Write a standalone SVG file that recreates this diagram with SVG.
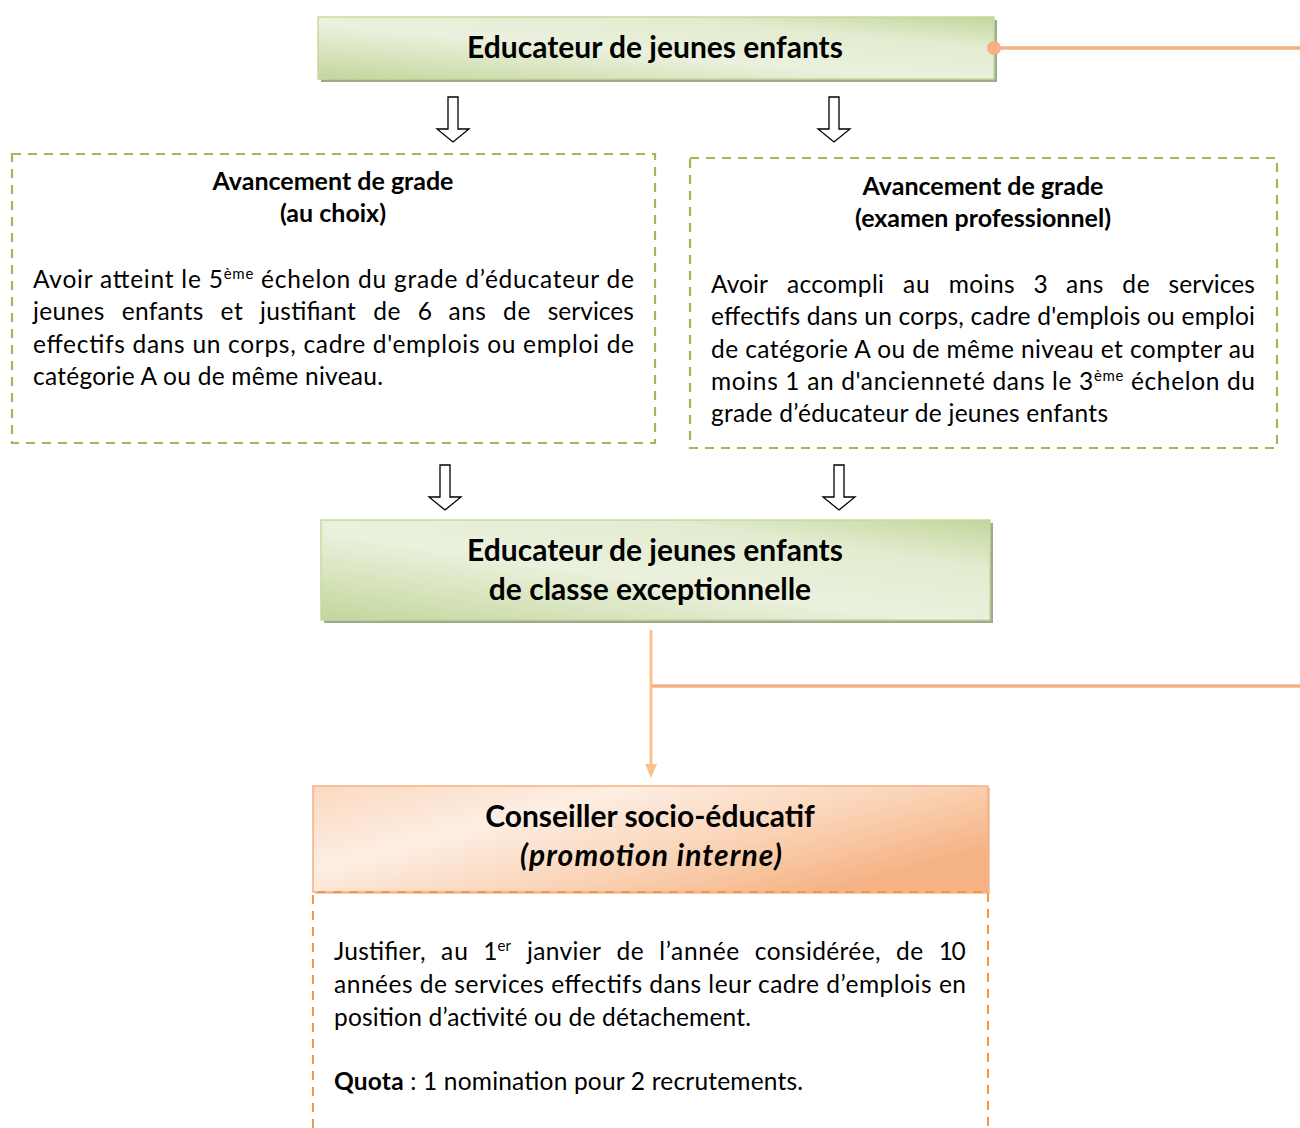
<svg xmlns="http://www.w3.org/2000/svg" width="1300" height="1128" viewBox="0 0 1300 1128">
<defs>
<linearGradient id="gGreen" x1="0" y1="1" x2="1" y2="0">
<stop offset="0" stop-color="#c3d69b"/>
<stop offset="0.45" stop-color="#ebf1de"/>
<stop offset="0.75" stop-color="#e3ecd0"/>
<stop offset="1" stop-color="#c3d69b"/>
</linearGradient>
<linearGradient id="gOrange" x1="0" y1="0" x2="1" y2="0.6">
<stop offset="0" stop-color="#fbd9c0"/>
<stop offset="0.35" stop-color="#fdeee3"/>
<stop offset="0.7" stop-color="#fad2b4"/>
<stop offset="1" stop-color="#f5b385"/>
</linearGradient>
</defs>
<style>
.t{font-family:Lato,"Open Sans","Liberation Sans",sans-serif;fill:#000}
.title{font-size:30px;font-weight:bold;text-anchor:middle}
.sub{font-size:25px;font-weight:bold;text-anchor:middle}
.body{font-size:24.5px}
.sup{font-size:15px}
.dashG{fill:none;stroke:#9bbb59;stroke-width:2.2;stroke-dasharray:9,7}
.dashO{fill:none;stroke:#f79646;stroke-width:2;stroke-dasharray:9,7}
.hollow{fill:#fff;stroke:#000;stroke-width:1.3}
.shadowG{fill:#9daa8b}
</style>

<g id="node-educateur">
<rect x="321" y="20" width="676" height="62" class="shadowG"/>
<rect x="318" y="17" width="676" height="62" fill="url(#gGreen)" stroke="#c6d9a0" stroke-width="1.5"/>
<text class="t title" x="655" y="58">Educateur de jeunes enfants</text>
</g>

<g id="node-choix">
<rect x="12" y="154" width="643" height="289" class="dashG"/>
<text class="t sub" x="333" y="190">Avancement de grade</text>
<text class="t sub" x="333" y="222">(au choix)</text>
<text class="t body" x="33" y="288" textLength="601" lengthAdjust="spacing">Avoir atteint le 5<tspan class="sup" dy="-9">ème</tspan><tspan dy="9"> échelon du grade d’éducateur de</tspan></text>
<g class="t body">
<text x="33" y="320" textLength="71.4" lengthAdjust="spacing">jeunes</text>
<text x="121.7" y="320" textLength="81.6" lengthAdjust="spacing">enfants</text>
<text x="220.6" y="320" textLength="22.2" lengthAdjust="spacing">et</text>
<text x="260.1" y="320" textLength="95.8" lengthAdjust="spacing">justifiant</text>
<text x="373.2" y="320" textLength="27.3" lengthAdjust="spacing">de</text>
<text x="417.8" y="320">6</text>
<text x="448.6" y="320" textLength="37.2" lengthAdjust="spacing">ans</text>
<text x="503.1" y="320" textLength="27.3" lengthAdjust="spacing">de</text>
<text x="547.7" y="320" textLength="86.2" lengthAdjust="spacing">services</text>
</g>
<text class="t body" x="33" y="353" textLength="601" lengthAdjust="spacing">effectifs dans un corps, cadre d'emplois ou emploi de</text>
<text class="t body" x="33" y="385" textLength="350" lengthAdjust="spacing">catégorie A ou de même niveau.</text>
</g>

<g id="node-examen">
<rect x="690" y="158" width="587" height="290" class="dashG"/>
<text class="t sub" x="983" y="195">Avancement de grade</text>
<text class="t sub" x="983" y="227">(examen professionnel)</text>
<g class="t body">
<text x="711" y="293" textLength="57" lengthAdjust="spacing">Avoir</text>
<text x="787" y="293" textLength="96.9" lengthAdjust="spacing">accompli</text>
<text x="902.9" y="293" textLength="26.8" lengthAdjust="spacing">au</text>
<text x="948.7" y="293" textLength="65.9" lengthAdjust="spacing">moins</text>
<text x="1033.6" y="293">3</text>
<text x="1066.1" y="293" textLength="37.2" lengthAdjust="spacing">ans</text>
<text x="1122.3" y="293" textLength="27.3" lengthAdjust="spacing">de</text>
<text x="1168.6" y="293" textLength="86.2" lengthAdjust="spacing">services</text>
</g>
<text class="t body" x="711" y="325" textLength="544" lengthAdjust="spacing">effectifs dans un corps, cadre d'emplois ou emploi</text>
<text class="t body" x="711" y="358" textLength="544" lengthAdjust="spacing">de catégorie A ou de même niveau et compter au</text>
<text class="t body" x="711" y="390" textLength="544" lengthAdjust="spacing">moins 1 an d'ancienneté dans le 3<tspan class="sup" dy="-9">ème</tspan><tspan dy="9"> échelon du</tspan></text>
<text class="t body" x="711" y="422" textLength="397" lengthAdjust="spacing">grade d’éducateur de jeunes enfants</text>
</g>

<g id="node-classe-exceptionnelle">
<rect x="324" y="523" width="669" height="100" class="shadowG"/>
<rect x="321" y="520" width="669" height="100" fill="url(#gGreen)" stroke="#c6d9a0" stroke-width="1.5"/>
<text class="t title" x="655" y="561">Educateur de jeunes enfants</text>
<text class="t title" x="650" y="600">de classe exceptionnelle</text>
</g>

<g id="node-conseiller">
<rect x="315" y="788" width="675" height="106" fill="#e9a77a" opacity="0.6"/>
<rect x="313" y="786" width="675" height="106" fill="url(#gOrange)" stroke="#f4b183" stroke-width="1.5"/>
<text class="t title" x="650" y="827">Conseiller socio-éducatif</text>
<text class="t title" x="651" y="866" font-style="italic" textLength="262" lengthAdjust="spacing">(promotion interne)</text>
<path class="dashO" d="M313,1128 V892 H988 V1128"/>
<g class="t body">
<text x="334" y="960" textLength="91.5" lengthAdjust="spacing">Justifier,</text>
<text x="441" y="960" textLength="26.8" lengthAdjust="spacing">au</text>
<text x="483.3" y="960">1</text>
<text class="sup" x="497.5" y="951">er</text>
<text x="527" y="960" textLength="73.9" lengthAdjust="spacing">janvier</text>
<text x="616.4" y="960" textLength="27.3" lengthAdjust="spacing">de</text>
<text x="659.2" y="960" textLength="80.1" lengthAdjust="spacing">l’année</text>
<text x="754.8" y="960" textLength="125.7" lengthAdjust="spacing">considérée,</text>
<text x="896" y="960" textLength="27.3" lengthAdjust="spacing">de</text>
<text x="938.8" y="960" textLength="27" lengthAdjust="spacing">10</text>
</g>
<text class="t body" x="334" y="993" textLength="632" lengthAdjust="spacing">années de services effectifs dans leur cadre d’emplois en</text>
<text class="t body" x="334" y="1026" textLength="417" lengthAdjust="spacing">position d’activité ou de détachement.</text>
<text class="t body" x="334" y="1090" textLength="469" lengthAdjust="spacing"><tspan font-weight="bold">Quota</tspan> : 1 nomination pour 2 recrutements.</text>
</g>

<g id="connectors">
<line x1="994" y1="48" x2="1300" y2="48" stroke="#f4b183" stroke-width="3.5"/>
<circle cx="994" cy="48" r="7" fill="#f4b183"/>
<line x1="651" y1="630" x2="651" y2="764" stroke="#fac090" stroke-width="3"/>
<path d="M645,764 L657,764 L651,778 Z" fill="#fac090"/>
<line x1="652" y1="686" x2="1300" y2="686" stroke="#f4b183" stroke-width="3.5"/>
<path class="hollow" d="M448,97 H458 V129 H469 L453,142 L437,129 H448 Z"/>
<path class="hollow" d="M829,97 H839 V129 H850 L834,142 L818,129 H829 Z"/>
<path class="hollow" d="M440,465 H450 V497 H461 L445,510 L429,497 H440 Z"/>
<path class="hollow" d="M834,465 H844 V497 H855 L839,510 L823,497 H834 Z"/>
</g>
</svg>
